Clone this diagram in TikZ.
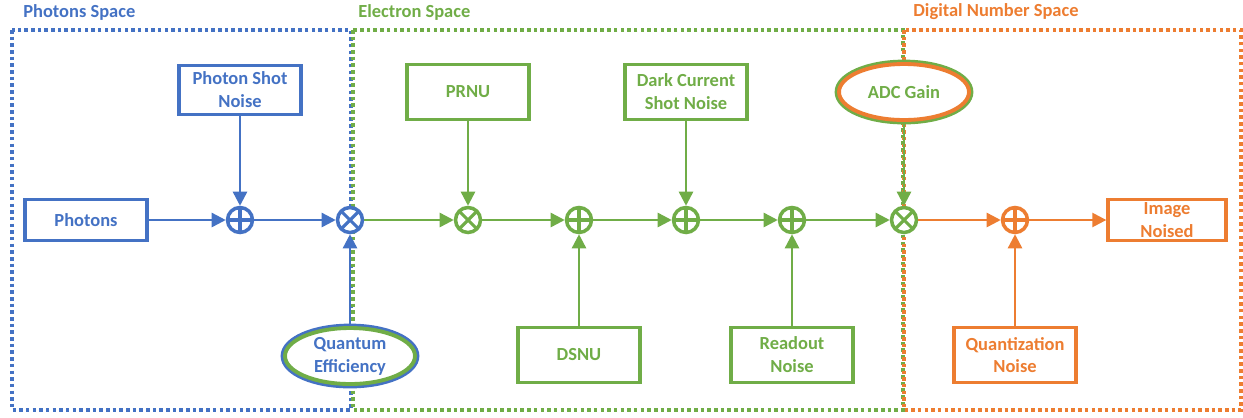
\documentclass[tikz,border=0pt]{standalone}
\usepackage{fontspec}
\setmainfont{Carlito}
\usetikzlibrary{arrows.meta,shapes.geometric}
\definecolor{pblue}{RGB}{68,114,196}
\definecolor{egreen}{RGB}{112,173,71}
\definecolor{dorange}{RGB}{237,125,49}
\tikzset{
  lbl/.style={font=\bfseries\fontsize{10.5}{13}\selectfont, align=center},
  block/.style={lbl, draw=#1, text=#1, fill=white, line width=2.2pt, inner sep=0pt,
    minimum width=2.43cm, minimum height=1.1cm},
  thin block/.style={block=#1, minimum height=0.82cm},
  gain/.style 2 args={lbl, ellipse, text=#2, preaction={draw=#1, line width=5pt},
    draw=#2, fill=white, line width=2.2pt, inner sep=0pt, minimum width=2.6cm, minimum height=1.12cm},
  junction/.style={circle, draw=#1, fill=white, line width=2pt, inner sep=0pt, minimum size=0.5cm},
  sum/.style={junction=#1, path picture={
    \draw[#1, line width=1.8pt] (path picture bounding box.north) -- (path picture bounding box.south)
      (path picture bounding box.west) -- (path picture bounding box.east);}},
  mul/.style={junction=#1, path picture={
    \draw[#1, line width=1.8pt] (path picture bounding box.north west) -- (path picture bounding box.south east)
      (path picture bounding box.north east) -- (path picture bounding box.south west);}},
  flow/.style={draw=#1, line width=1.4pt, -{Triangle[length=8pt,width=8pt]}},
  zone/.style={draw=#1, line width=2pt, dash pattern=on 2pt off 1.8pt},
}
\begin{document}
\begin{tikzpicture}[x=0.02cm, y=-0.02cm]
\useasboundingbox (0,0) rectangle (1243,417);
% the three spaces
\draw[zone=pblue] (12,30) rectangle (351,410);
\draw[zone=egreen] (353,30) rectangle (903,410);
\draw[zone=dorange] (904,30) rectangle (1241,410);
\node[lbl, text=pblue, anchor=west, inner sep=0pt] (tphot) at (23,12) {Photons Space};
\node[lbl, text=egreen, anchor=west, inner sep=0pt] (telec) at (358,12) {Electron Space};
\node[lbl, text=dorange, anchor=west, inner sep=0pt] (tdig) at (913,12) {Digital Number Space};

% sources
\node[thin block=pblue] (photons) at (86,220) {Photons};
\node[block=pblue, minimum height=0.98cm] (psn) at (240,90) {Photon Shot\\Noise};
\node[gain={pblue}{egreen}, text=pblue] (qe) at (350,356) {Quantum\\Efficiency};
\node[block=egreen] (prnu) at (468,92) {PRNU};
\node[block=egreen] (dcsn) at (686,92) {Dark Current\\Shot Noise};
\node[block=egreen] (dsnu) at (579,355) {DSNU};
\node[block=egreen] (readout) at (792,355) {Readout\\Noise};
\node[gain={egreen}{dorange}, text=egreen] (adc) at (904,92) {ADC Gain};
\node[block=dorange] (quant) at (1015,355) {Quantization\\Noise};
\node[thin block=dorange, minimum width=2.35cm] (img) at (1167,220) {Image\\Noised};

% junctions
\node[sum=pblue] (sum1) at (240,220) {};
\node[mul=pblue] (mul1) at (350,220) {};
\node[mul=egreen] (mul2) at (468,220) {};
\node[sum=egreen] (sum2) at (579,220) {};
\node[sum=egreen] (sum3) at (686,220) {};
\node[sum=egreen] (sum4) at (792,220) {};
\node[mul=egreen] (mul3) at (904,220) {};
\node[sum=dorange] (sum5) at (1015,220) {};

% signal chain
\draw[flow=pblue] (photons) -- (sum1);
\draw[flow=pblue] (psn) -- (sum1);
\draw[flow=pblue] (sum1) -- (mul1);
\draw[flow=pblue] (qe) -- (mul1);
\draw[flow=egreen] (mul1) -- (mul2);
\draw[flow=egreen] (prnu) -- (mul2);
\draw[flow=egreen] (mul2) -- (sum2);
\draw[flow=egreen] (dsnu) -- (sum2);
\draw[flow=egreen] (sum2) -- (sum3);
\draw[flow=egreen] (dcsn) -- (sum3);
\draw[flow=egreen] (sum3) -- (sum4);
\draw[flow=egreen] (readout) -- (sum4);
\draw[flow=egreen] (sum4) -- (mul3);
\draw[flow=egreen] (adc) -- (mul3);
\draw[flow=dorange] (mul3) -- (sum5);
\draw[flow=dorange] (quant) -- (sum5);
\draw[flow=dorange] (sum5) -- (img);
\end{tikzpicture}
\end{document}
